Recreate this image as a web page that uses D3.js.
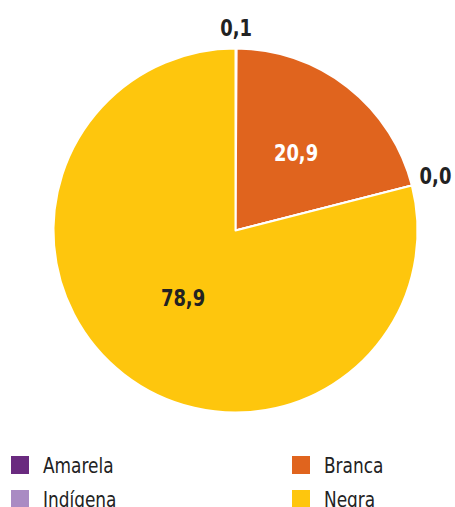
<!DOCTYPE html>
<html><head><meta charset="utf-8">
<script src="https://cdn.jsdelivr.net/npm/d3@7"></script>
<style>body{margin:0;background:#fff}svg{display:block}</style>
</head><body>
<svg id="c" width="455" height="507"></svg>
<script>
const categories = ["Amarela", "Branca", "Indígena", "Negra"];
const values = [0.1, 20.9, 0.0, 78.9];
const labels = ["0,1", "20,9", "0,0", "78,9"];
const colors = ["#6a2a7f", "#e0641e", "#a98bc3", "#fec60d"];
const legendOrder = ["Amarela", "Indígena", "Branca", "Negra"];

const svg = d3.select("#c");
const cx = 235.5, cy = 230.5, r = 182;
const font = "'DejaVu Sans', sans-serif";
const color = d3.scaleOrdinal().domain(categories).range(colors);

const data = categories.map((c, i) => ({cat: c, value: values[i], label: labels[i]}));
const pie = d3.pie().sort(null).value(d => d.value);
const arcs = pie(data);
const arc = d3.arc().innerRadius(0).outerRadius(r);

const g = svg.append("g").attr("transform", `translate(${cx},${cy})`);
g.selectAll("path").data(arcs).join("path")
  .attr("d", arc)
  .attr("fill", d => color(d.data.cat))
  .attr("stroke", "#fff").attr("stroke-width", 2).attr("stroke-linejoin", "round");

// labels (condensed via horizontal scaling)
const sx = 0.78;
arcs.forEach(a => {
  const big = a.data.value > 5;
  let rr, anchor = "middle", dy = 0;
  if (big) {
    rr = a.data.value > 50 ? r * 0.47 : r * 0.54;
  } else if (a.startAngle > 0.5) {
    rr = r + 8; anchor = "start"; dy = -7;
  } else {
    rr = r + 20;
  }
  const p = d3.arc().innerRadius(rr).outerRadius(rr).centroid(a);
  g.append("text")
    .attr("transform", `translate(${p[0]},${p[1] + dy}) scale(${sx},1)`)
    .attr("text-anchor", anchor)
    .attr("dominant-baseline", "central")
    .attr("font-family", font)
    .attr("font-weight", "bold").attr("font-size", 23)
    .attr("fill", a.data.cat === "Branca" ? "#fff" : "#222")
    .text(a.data.label);
});

// legend
const lx = d3.scaleOrdinal().domain([0, 1]).range([11, 292]);
const ly = d3.scaleOrdinal().domain([0, 1]).range([456, 490]);
legendOrder.forEach((c, i) => {
  const col = i < 2 ? 0 : 1, row = i % 2;
  const lg = svg.append("g").attr("transform", `translate(${lx(col)},${ly(row)})`);
  lg.append("rect").attr("width", 18).attr("height", 18).attr("fill", color(c));
  lg.append("text").attr("transform", `translate(32,17) scale(0.77,1)`)
    .attr("font-family", font)
    .attr("font-size", 22).attr("fill", "#222")
    .text(c);
});
</script>
</body></html>
